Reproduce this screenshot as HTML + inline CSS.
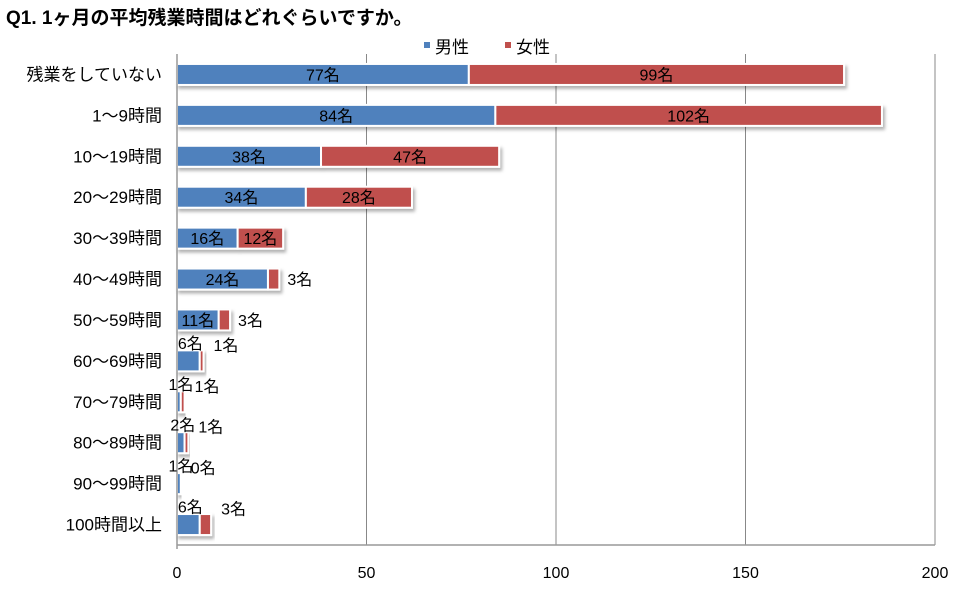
<!DOCTYPE html>
<html><head><meta charset="utf-8"><style>
body{margin:0;background:#fff;}
svg text{font-family:"Liberation Sans","Noto Sans CJK JP",sans-serif;}
</style></head><body>
<svg id="c" width="959" height="586" xmlns="http://www.w3.org/2000/svg">
<defs><filter id="sh" x="-5%" y="-20%" width="115%" height="160%"><feDropShadow dx="2" dy="3" stdDeviation="1.5" flood-color="#000" flood-opacity="0.3"/></filter></defs>
<text x="6" y="24" font-size="19" font-weight="bold" fill="#000">Q1. 1ヶ月の平均残業時間はどれぐらいですか。</text>
<g>
<rect x="424" y="42" width="6" height="6" fill="#4f81bd"/>
<text x="435" y="53" font-size="17">男性</text>
<rect x="505" y="42" width="6" height="6" fill="#c0504d"/>
<text x="516" y="53" font-size="17">女性</text>
</g>
<g id="grid"></g><g id="bars"></g><g id="axes"></g>
</svg>
<script>
const categories=["残業をしていない","1〜9時間","10〜19時間","20〜29時間","30〜39時間","40〜49時間","50〜59時間","60〜69時間","70〜79時間","80〜89時間","90〜99時間","100時間以上"];
const maleValues=[77,84,38,34,16,24,11,6,1,2,1,6];
const femaleValues=[99,102,47,28,12,3,3,1,1,1,0,3];
const xTicks=[0,50,100,150,200];
const NS="http://www.w3.org/2000/svg";
const X0=177,X1=935,XMAX=200,TOP=54,BOT=545;
const x=v=>X0+(X1-X0)*v/XMAX;
const band=(BOT-TOP)/categories.length;
const yc=i=>TOP+band*(i+0.5);
function mk(tag,attrs,parent){const e=document.createElementNS(NS,tag);for(const k in attrs)e.setAttribute(k,attrs[k]);parent.appendChild(e);return e;}
const grid=document.getElementById('grid'),bars=document.getElementById('bars'),axes=document.getElementById('axes');
xTicks.forEach((t,i)=>{
 if(t>0){const l=mk('line',{x1:x(t),x2:x(t),y1:TOP,y2:BOT,stroke:'#888','stroke-width':1},grid);
 
 }
 const tx=mk('text',{x:x(t),y:578,'font-size':16,'text-anchor':'middle'},axes);tx.textContent=t;
 
 
});
const ax=mk('line',{x1:X0,x2:X1,y1:BOT,y2:BOT,stroke:'#999','stroke-width':1.5},axes);


const ay=mk('line',{x1:X0,x2:X0,y1:TOP,y2:BOT+4,stroke:'#999','stroke-width':1.5},axes);


const H=21;
categories.forEach((c,i)=>{
 const y=yc(i);
 const lab=mk('text',{x:162,y:y+6,'font-size':17,'text-anchor':'end'},axes);lab.textContent=c;
 
 
 const m=maleValues[i],f=femaleValues[i];
 const g=mk('g',{filter:'url(#sh)'},bars);
 
 
 const bm=mk('rect',{x:x(0),y:y-H/2,width:x(m)-x(0),height:H,fill:'#4f81bd',stroke:'#fff','stroke-width':2},g);
 
 
 const bf=mk('rect',{x:x(m),y:y-H/2,width:x(m+f)-x(m),height:H,fill:'#c0504d',stroke:'#fff','stroke-width':2},g);
 
 
 const mw=x(m)-x(0),fw=x(m+f)-x(m);
 const mIn=mw>=30, fIn=fw>=30;
 const tm=mk('text',{'font-size':16,'text-anchor':'middle',x:mIn?(x(0)+x(m))/2:x(m/2)+2,y:mIn?y+6:y-12},axes);tm.textContent=m+'名';
 
 
 const tf=mk('text',{'font-size':16,'text-anchor':fIn?'middle':'start',x:fIn?(x(m)+x(m+f))/2:x(m+f)+ (mIn?8:10),y:(fIn||mIn)?y+6:y-10},axes);tf.textContent=f+'名';
 
 
});
</script>
</body></html>
